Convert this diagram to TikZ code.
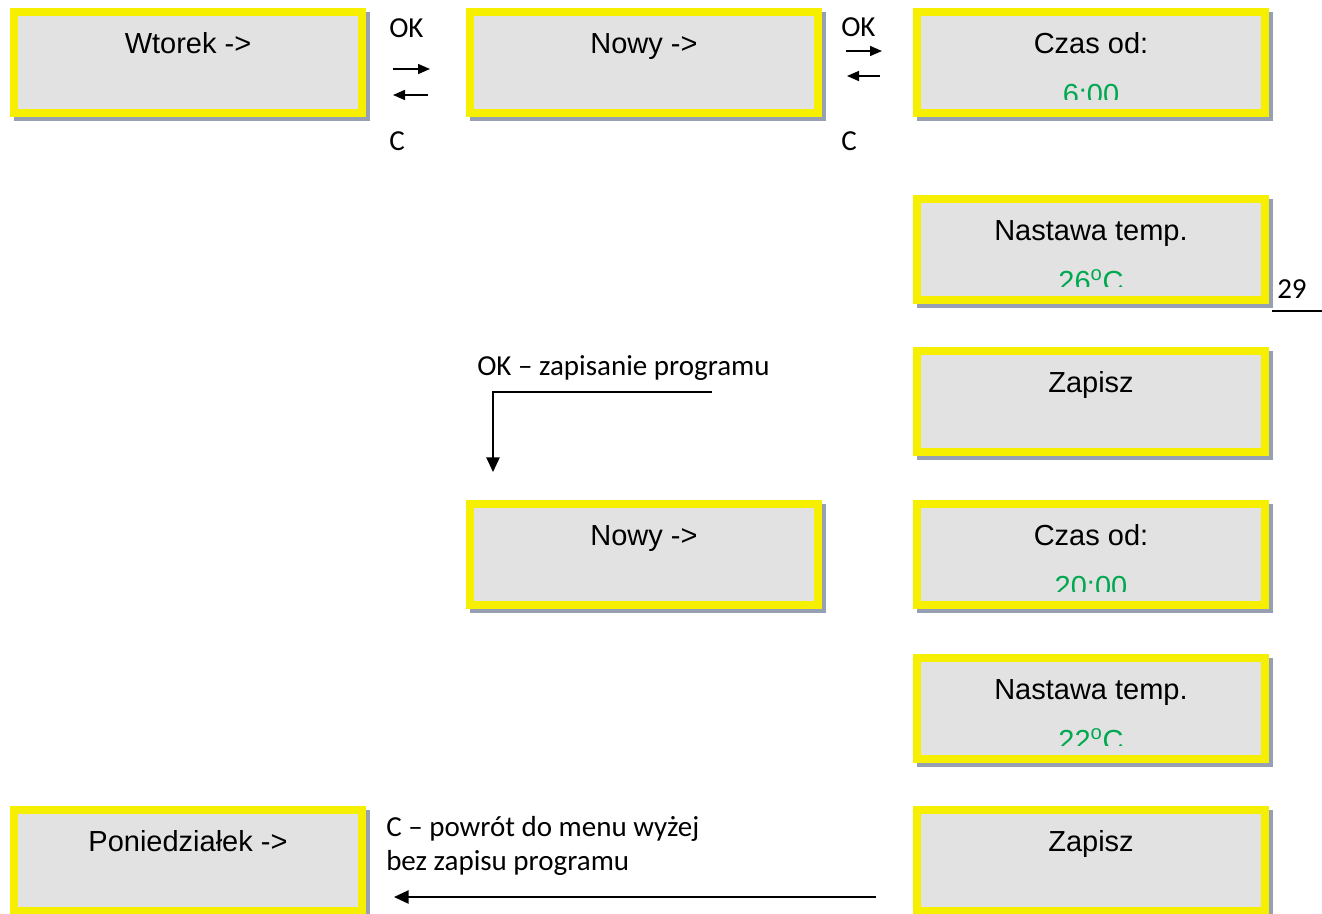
\documentclass[tikz,border=0pt]{standalone}
\usepackage{fontspec}
\setmainfont{Liberation Sans}
\newfontfamily\calfont{Carlito}
\usetikzlibrary{arrows.meta}

\definecolor{lcdyellow}{RGB}{247,239,0}
\definecolor{lcdgray}{RGB}{226,226,226}
\definecolor{lcdshadow}{RGB}{150,160,178}
\definecolor{lcdgreen}{RGB}{0,168,80}

\tikzset{
  lcdframe/.style={fill=lcdgray, draw=lcdyellow, line width=6pt,
    minimum width=261pt, minimum height=75.75pt, inner sep=0pt},
  lcdtitle/.style={anchor=base, inner sep=0pt,
    font=\fontsize{21.75}{26}\selectfont},
  lcdvalue/.style={lcdtitle, text=lcdgreen},
  note/.style={anchor=base west, inner sep=0pt,
    font=\calfont\fontsize{21.75}{26}\selectfont},
  keyarrow/.style={line width=1.1pt, -{Triangle[length=9pt,width=7.5pt]}},
  flowarrow/.style={line width=1.1pt, -{Triangle[length=11pt,width=10pt]}},
}

% one display screen: name, left, top, title, value (value clipped at the bottom)
\newcommand\lcdscreen[5]{%
  \fill[lcdshadow] (#2+4,#3+4) rectangle (#2+360,#3+113);
  \node[lcdframe] (#1) at (#2+178,#3+54.5) {};
  \node[lcdtitle] (#1-title) at (#2+178,#3+45) {#4};
  \if\relax\detokenize{#5}\relax\else
  \begin{scope}
    \clip (#2+8,#3+8) rectangle (#2+348,#3+91);
    \node[lcdvalue] (#1-value) at (#2+178,#3+96) {#5};
  \end{scope}\fi}

\begin{document}
\begin{tikzpicture}[x=0.75pt, y=-0.75pt]
\useasboundingbox (0,0) rectangle (1322,914);

% left column
\lcdscreen{tue}{10}{8}{Wtorek ->}{}
\lcdscreen{mon}{10}{806}{Poniedziałek ->}{}

% middle column
\lcdscreen{new}{466}{8}{Nowy ->}{}
\lcdscreen{newb}{466}{500}{Nowy ->}{}

% right column
\lcdscreen{from}{913}{8}{Czas od:}{6:00}
\lcdscreen{temp}{913}{195}{Nastawa temp.}{26\textsuperscript{o}C}
\lcdscreen{save}{913}{347}{Zapisz}{}
\lcdscreen{fromb}{913}{500}{Czas od:}{20:00}
\lcdscreen{tempb}{913}{654}{Nastawa temp.}{22\textsuperscript{o}C}
\lcdscreen{saveb}{913}{806}{Zapisz}{}

% OK / C keys between the top screens
\node[note] (ok1) at (389,37) {OK};
\node[note] (c1) at (389,150) {C};
\coordinate (r1a) at (393,69);  \coordinate (r1b) at (430,69);
\coordinate (l1a) at (428,95);  \coordinate (l1b) at (393,95);
\draw[keyarrow] (r1a) -- (r1b);
\draw[keyarrow] (l1a) -- (l1b);

\node[note] (ok2) at (841,36) {OK};
\node[note] (c2) at (841,150) {C};
\coordinate (r2a) at (846,51);  \coordinate (r2b) at (882,51);
\coordinate (l2a) at (880,76);  \coordinate (l2b) at (847,76);
\draw[keyarrow] (r2a) -- (r2b);
\draw[keyarrow] (l2a) -- (l2b);

% page number
\node[note] (page) at (1277,298) {29};
\coordinate (rulea) at (1272,311);
\coordinate (ruleb) at (1322,311);
\draw[line width=1pt] (rulea) -- (ruleb);

% saving the program
\node[note] (oknote) at (477,375) {OK – zapisanie programu};
\coordinate (oka) at (712,392);
\coordinate (okb) at (493,472);
\draw[flowarrow] (oka) -| (okb);

% leaving without saving
\node[note] (cnote1) at (386,836) {C – powrót do menu wyżej};
\node[note] (cnote2) at (386,870) {bez zapisu programu};
\coordinate (ca) at (876,897);
\coordinate (cb) at (394,897);
\draw[flowarrow] (ca) -- (cb);
\end{tikzpicture}
\end{document}
